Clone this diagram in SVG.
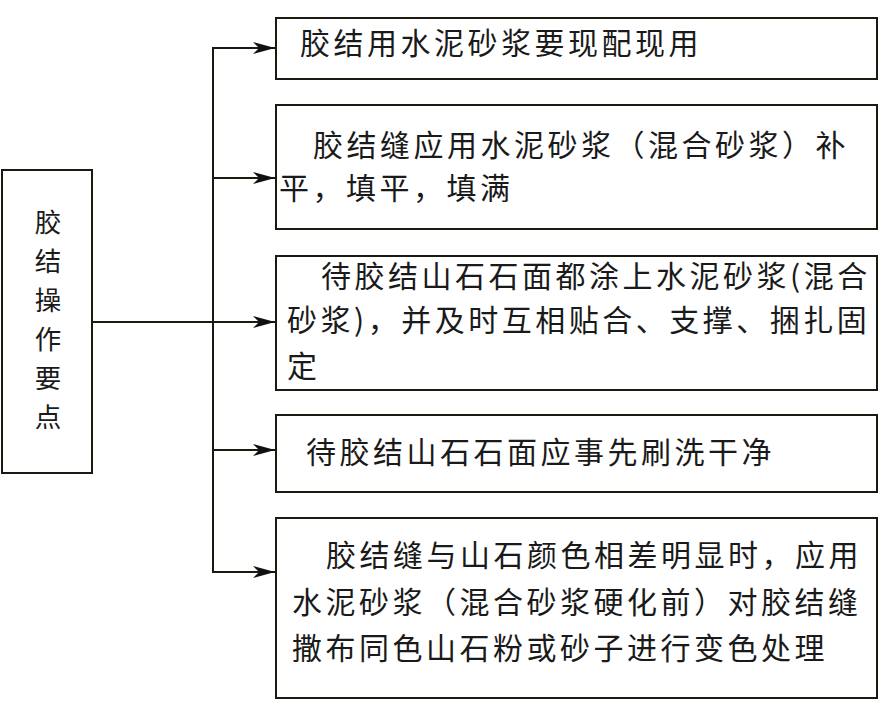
<svg xmlns="http://www.w3.org/2000/svg" width="881" height="702" viewBox="0 0 881 702">
<style>
.box{fill:#fff;stroke:#1a1a10;stroke-width:2}
.t{font-family:"Noto Sans CJK SC","Noto Sans CJK TC",sans-serif;font-size:30px;fill:#1a1a1a;letter-spacing:3.5px}
.v{font-family:"Noto Sans CJK SC","Noto Sans CJK TC",sans-serif;font-size:26.5px;fill:#1a1a1a}
.c{fill:none;stroke:#1a1a10;stroke-width:2}
</style>
<defs>
<marker id="ah" markerWidth="22" markerHeight="12" refX="22" refY="6" orient="auto" markerUnits="userSpaceOnUse">
<path d="M0,0 L22,6 L0,12 L6,6 Z" fill="#111"/>
</marker>
</defs>
<rect width="881" height="702" fill="#fff"/>
<g id="connectors">
<line class="c" x1="92" y1="322" x2="275" y2="322" marker-end="url(#ah)"/>
<line class="c" x1="213" y1="48" x2="213" y2="572"/>
<line class="c" x1="212" y1="48" x2="275" y2="48" marker-end="url(#ah)"/>
<line class="c" x1="212" y1="178" x2="275" y2="178" marker-end="url(#ah)"/>
<line class="c" x1="212" y1="450" x2="275" y2="450" marker-end="url(#ah)"/>
<line class="c" x1="212" y1="572" x2="275" y2="572" marker-end="url(#ah)"/>
</g>
<g id="root">
<rect class="box" x="2" y="170" width="90" height="303"/>
<text class="v" x="48" y="232" text-anchor="middle">胶</text>
<text class="v" x="48" y="271" text-anchor="middle">结</text>
<text class="v" x="48" y="310" text-anchor="middle">操</text>
<text class="v" x="48" y="349" text-anchor="middle">作</text>
<text class="v" x="48" y="388" text-anchor="middle">要</text>
<text class="v" x="48" y="427" text-anchor="middle">点</text>
</g>
<g id="n1">
<rect class="box" x="276" y="18" width="601" height="61"/>
<text class="t" x="300" y="54">胶结用水泥砂浆要现配现用</text>
</g>
<g id="n2">
<rect class="box" x="276" y="105" width="601" height="124"/>
<text class="t"><tspan x="313" y="156">胶结缝应用水泥砂浆（混合砂浆）补</tspan><tspan x="279" y="199">平，填平，填满</tspan></text>
</g>
<g id="n3">
<rect class="box" x="276" y="256" width="601" height="134"/>
<text class="t"><tspan x="321" y="287">待胶结山石石面都涂上水泥砂浆(混合</tspan><tspan x="287" y="331">砂浆)，并及时互相贴合、支撑、捆扎固</tspan><tspan x="287" y="377">定</tspan></text>
</g>
<g id="n4">
<rect class="box" x="276" y="415" width="601" height="77"/>
<text class="t" x="306" y="463">待胶结山石石面应事先刷洗干净</text>
</g>
<g id="n5">
<rect class="box" x="276" y="518" width="601" height="180"/>
<text class="t"><tspan x="326" y="566">胶结缝与山石颜色相差明显时，应用</tspan><tspan x="292" y="613">水泥砂浆（混合砂浆硬化前）对胶结缝</tspan><tspan x="292" y="659">撒布同色山石粉或砂子进行变色处理</tspan></text>
</g>
</svg>
